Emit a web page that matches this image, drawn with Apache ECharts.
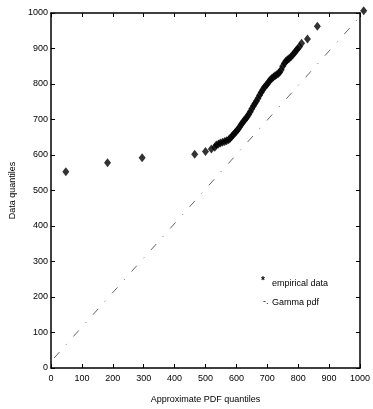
<!DOCTYPE html>
<html><head><meta charset="utf-8">
<script src="https://cdn.jsdelivr.net/npm/echarts@6/dist/echarts.min.js"></script>
<style>html,body{margin:0;padding:0;background:#fff}#c{width:373px;height:409px}</style>
</head><body><div id="c"></div>
<script>
// Empirical data quantiles: [approximate PDF quantile, data quantile]
var empiricalX = [48, 183, 295, 465, 500, 519, 530, 535, 542, 548, 555, 562, 568, 575, 580, 585, 590, 595, 600, 605, 610, 615, 620, 625, 630, 635, 640, 645, 650, 655, 660, 665, 670, 675, 680, 685, 690, 695, 700, 705, 710, 715, 720, 725, 730, 735, 740, 745, 750, 755, 760, 765, 770, 776, 782, 788, 793, 798, 804, 811, 830, 862, 1012];
var empiricalY = [553, 578, 592, 602, 610, 617, 622, 628, 631, 634, 636, 638, 640, 643, 647, 652, 657, 662, 667, 672, 678, 685, 691, 697, 702, 708, 715, 722, 730, 738, 745, 752, 760, 768, 776, 783, 790, 795, 800, 806, 812, 816, 820, 823, 826, 829, 833, 840, 850, 858, 864, 868, 871, 876, 882, 888, 894, 899, 905, 915, 927, 963, 1006];
// Gamma pdf reference line endpoints
var gammaX = [10, 1000];
var gammaY = [28, 990];
var legendNames = ['empirical data', 'Gamma pdf'];

var empirical = empiricalX.map(function(x,i){return [x, empiricalY[i]];});
var gamma = gammaX.map(function(x,i){return [x, gammaY[i]];});

var font = 'Liberation Sans, Arial, sans-serif';
var lab = function(v){return String(v);};
var chart = echarts.init(document.getElementById('c'), null, {renderer:'canvas'});
chart.setOption({
  animation:false,
  backgroundColor:'#fff',
  grid:{left:51, right:9, top:13, bottom:38},
  graphic:[
    {type:'text', left:261, top:276, style:{text:'*', fontFamily:font, fontSize:10, fontWeight:'bold', fill:'#000'}},
    {type:'text', left:272, top:279, style:{text:legendNames[0], fontFamily:font, fontSize:9, fill:'#000'}},
    {type:'text', left:263, top:297, style:{text:'-.', fontFamily:font, fontSize:9, fill:'#000'}},
    {type:'text', left:272, top:298, style:{text:legendNames[1], fontFamily:font, fontSize:9, fill:'#000'}}
  ],
  xAxis:[{
    type:'value', min:0, max:1000, interval:100,
    name:'Approximate PDF quantiles', nameLocation:'middle', nameGap:27,
    nameTextStyle:{fontFamily:font, fontSize:9, color:'#000'},
    axisLine:{show:true, onZero:false, lineStyle:{color:'#000', width:1.5}},
    axisTick:{inside:true, length:4, lineStyle:{color:'#000'}},
    axisLabel:{fontFamily:font, fontSize:9, color:'#000', margin:6, formatter:lab},
    splitLine:{show:false}
  },{
    type:'value', position:'top', min:0, max:1000, interval:100,
    axisLine:{show:true, onZero:false, lineStyle:{color:'#000', width:1.5}},
    axisTick:{inside:true, length:4, lineStyle:{color:'#000'}},
    axisLabel:{show:false}, splitLine:{show:false}
  }],
  yAxis:[{
    type:'value', min:0, max:1000, interval:100,
    name:'Data quantiles', nameLocation:'middle', nameGap:28, nameRotate:90,
    nameTextStyle:{fontFamily:font, fontSize:9, color:'#000'},
    axisLine:{show:true, onZero:false, lineStyle:{color:'#000', width:1.5}},
    axisTick:{inside:true, length:4, lineStyle:{color:'#000'}},
    axisLabel:{fontFamily:font, fontSize:9, color:'#000', margin:3, formatter:lab},
    splitLine:{show:false}
  },{
    type:'value', position:'right', min:0, max:1000, interval:100,
    axisLine:{show:true, onZero:false, lineStyle:{color:'#000', width:1.5}},
    axisTick:{inside:true, length:4, lineStyle:{color:'#000'}},
    axisLabel:{show:false}, splitLine:{show:false}
  }],
  series:[{
    name:legendNames[1], type:'line', data:gamma, symbol:'none', silent:true,
    lineStyle:{color:'#666', width:1, type:[8,10,1,10]}
  },{
    name:legendNames[0], type:'scatter', data:empirical, clip:false,
    symbol:'diamond', symbolSize:[7,9], itemStyle:{color:'#000'}
  }]
});
</script></body></html>
